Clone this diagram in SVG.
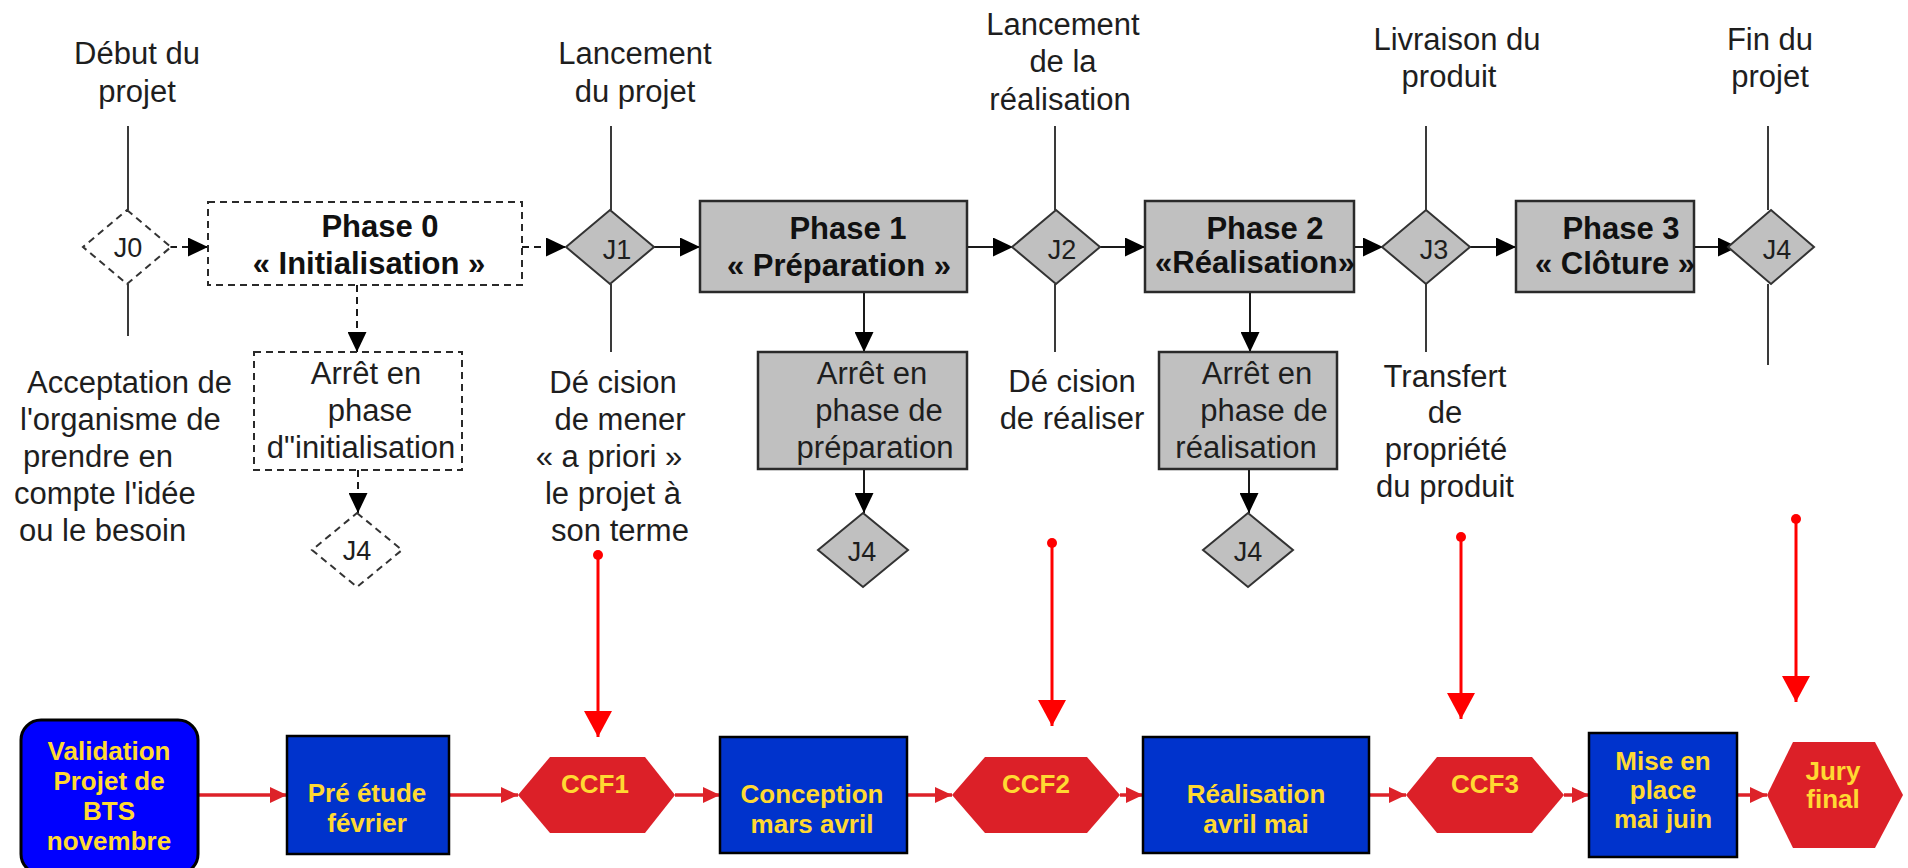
<svg xmlns="http://www.w3.org/2000/svg" width="1908" height="868" viewBox="0 0 1908 868">
  <style>
    .lbl { font-family: "Liberation Sans", Arial, sans-serif; font-size: 31px; fill: #1e1e1e; }
    .c { text-anchor: middle; }
    .ttl { font-family: "Liberation Sans", Arial, sans-serif; font-size: 31px; font-weight: bold; fill: #111; text-anchor: middle; }
    .jl { font-family: "Liberation Sans", Arial, sans-serif; font-size: 27px; fill: #1e1e1e; text-anchor: middle; }
    .yl { font-family: "Liberation Sans", Arial, sans-serif; font-size: 26px; font-weight: bold; fill: #ffd932; text-anchor: middle; }
    .gbox { fill: #c0c0c0; stroke: #2a2a2a; stroke-width: 2.5; }
    .dbox { fill: #ffffff; stroke: #2a2a2a; stroke-width: 2; stroke-dasharray: 7 5; }
    .gdia { fill: #c0c0c0; stroke: #333; stroke-width: 2; }
    .ddia { fill: #ffffff; stroke: #333; stroke-width: 2; stroke-dasharray: 7 5; }
    .tick { stroke: #3a3a3a; stroke-width: 2; fill: none; }
    .flow { stroke: #1a1a1a; stroke-width: 2; fill: none; marker-end: url(#ah); }
    .dflow { stroke: #1a1a1a; stroke-width: 2; fill: none; stroke-dasharray: 7 5; marker-end: url(#ah); }
    .rflow { stroke: #dd2229; stroke-width: 3.5; fill: none; marker-end: url(#rah); }
    .rlink { stroke: #ff0000; stroke-width: 3; fill: none; marker-start: url(#rdot); marker-end: url(#rbig); }
    .blue { fill: #0033cc; stroke: #000; stroke-width: 2.5; }
    .hex { fill: #dc2028; }
  </style>
  <defs>
    <marker id="ah" markerUnits="userSpaceOnUse" markerWidth="20" markerHeight="19" refX="20" refY="9.5" orient="auto">
      <path d="M0,0 L20,9.5 L0,19 Z" fill="#000"/>
    </marker>
    <marker id="rah" markerUnits="userSpaceOnUse" markerWidth="17" markerHeight="16" refX="17" refY="8" orient="auto">
      <path d="M0,0 L17,8 L0,16 Z" fill="#dd2229"/>
    </marker>
    <marker id="rbig" markerUnits="userSpaceOnUse" markerWidth="26" markerHeight="28" refX="26" refY="14" orient="auto">
      <path d="M0,0 L26,14 L0,28 Z" fill="#ff0000"/>
    </marker>
    <marker id="rdot" markerUnits="userSpaceOnUse" markerWidth="12" markerHeight="12" refX="6" refY="6" orient="auto">
      <circle cx="6" cy="6" r="5" fill="#ff0000"/>
    </marker>
  </defs>

  <rect width="1908" height="868" fill="#ffffff"/>

  <!-- milestone ticks with their captions -->
  <g id="milestone-captions">
    <text class="lbl c"><tspan x="137" y="64">Début du</tspan><tspan x="137" y="102">projet</tspan></text>
    <text class="lbl c"><tspan x="635" y="64">Lancement</tspan><tspan x="635" y="102">du projet</tspan></text>
    <text class="lbl c"><tspan x="1063" y="35">Lancement</tspan><tspan x="1063" y="72">de la</tspan><tspan x="1060" y="110">réalisation</tspan></text>
    <text class="lbl c"><tspan x="1457" y="50">Livraison du</tspan><tspan x="1449" y="87">produit</tspan></text>
    <text class="lbl c"><tspan x="1770" y="50">Fin du</tspan><tspan x="1770" y="87">projet</tspan></text>

    <text class="lbl"><tspan x="27" y="393">Acceptation de</tspan><tspan x="20" y="430">l'organisme de</tspan><tspan x="23" y="467">prendre en</tspan><tspan x="14" y="504">compte l'idée</tspan><tspan x="19" y="541">ou le besoin</tspan></text>
    <text class="lbl c"><tspan x="613" y="393">Dé cision</tspan><tspan x="620" y="430">de mener</tspan><tspan x="609" y="467">«  a priori »</tspan><tspan x="613" y="504">le projet à</tspan><tspan x="620" y="541">son terme</tspan></text>
    <text class="lbl c"><tspan x="1072" y="392">Dé cision</tspan><tspan x="1072" y="429">de réaliser</tspan></text>
    <text class="lbl c"><tspan x="1445" y="387">Transfert</tspan><tspan x="1445" y="423">de</tspan><tspan x="1446" y="460">propriété</tspan><tspan x="1445" y="497">du produit</tspan></text>
  </g>

  <!-- connectors -->
  <g id="connectors">
    <!-- milestone ticks -->
    <path class="tick" d="M128,126 V210 M128,284 V336"/>
    <path class="tick" d="M611,126 V210 M611,284 V352"/>
    <path class="tick" d="M1055,126 V210 M1055,284 V352"/>
    <path class="tick" d="M1426,126 V210 M1426,284 V352"/>
    <path class="tick" d="M1768,126 V210 M1768,284 V365"/>

    <!-- main chain -->
    <path class="dflow" d="M170,247 H208"/>
    <path class="dflow" d="M522,247 H566"/>
    <path class="flow" d="M654,247 H700"/>
    <path class="flow" d="M967,247 H1013"/>
    <path class="flow" d="M1100,247 H1145"/>
    <path class="flow" d="M1354,247 H1383"/>
    <path class="flow" d="M1470,247 H1516"/>
    <path class="flow" d="M1694,247 H1738"/>

    <!-- stop branches -->
    <path class="dflow" d="M357,285 V352"/>
    <path class="dflow" d="M358,470 V513"/>
    <path class="flow" d="M864,292 V352"/>
    <path class="flow" d="M864,469 V513"/>
    <path class="flow" d="M1250,292 V352"/>
    <path class="flow" d="M1249,469 V513"/>

    <!-- milestone to exam links -->
    <path class="rlink" d="M598,555 V737"/>
    <path class="rlink" d="M1052,543 V726"/>
    <path class="rlink" d="M1461,537 V719"/>
    <path class="rlink" d="M1796,519 V702"/>

    <!-- calendar chain -->
    <path class="rflow" d="M198,795 H287"/>
    <path class="rflow" d="M449,795 H518"/>
    <path class="rflow" d="M675,795 H720"/>
    <path class="rflow" d="M907,795 H952"/>
    <path class="rflow" d="M1120,795 H1143"/>
    <path class="rflow" d="M1369,795 H1406"/>
    <path class="rflow" d="M1564,795 H1589"/>
    <path class="rflow" d="M1737,795 H1767"/>
  </g>

  <!-- milestones -->
  <g id="J0">
    <polygon class="ddia" points="127,210 171,247 127,284 83,247"/>
    <text class="jl" x="128" y="257">J0</text>
  </g>
  <g id="J1">
    <polygon class="gdia" points="610,210 654,247 610,284 566,247"/>
    <text class="jl" x="617" y="259">J1</text>
  </g>
  <g id="J2">
    <polygon class="gdia" points="1056,210 1100,247 1056,284 1012,247"/>
    <text class="jl" x="1062" y="259">J2</text>
  </g>
  <g id="J3">
    <polygon class="gdia" points="1426,210 1470,247 1426,284 1382,247"/>
    <text class="jl" x="1434" y="259">J3</text>
  </g>
  <g id="J4">
    <polygon class="gdia" points="1771,210 1814,247 1771,284 1728,247"/>
    <text class="jl" x="1777" y="259">J4</text>
  </g>

  <!-- phases -->
  <g id="phase0">
    <rect class="dbox" x="208" y="202" width="314" height="83"/>
    <text class="ttl"><tspan x="380" y="237">Phase 0</tspan><tspan x="369" y="274">« Initialisation »</tspan></text>
  </g>
  <g id="phase1">
    <rect class="gbox" x="700" y="201" width="267" height="91"/>
    <text class="ttl"><tspan x="848" y="239">Phase 1</tspan><tspan x="839" y="276">«  Préparation »</tspan></text>
  </g>
  <g id="phase2">
    <rect class="gbox" x="1145" y="201" width="209" height="91"/>
    <text class="ttl"><tspan x="1265" y="239">Phase 2</tspan><tspan x="1255" y="273">«Réalisation»</tspan></text>
  </g>
  <g id="phase3">
    <rect class="gbox" x="1516" y="201" width="178" height="91"/>
    <text class="ttl"><tspan x="1621" y="239">Phase 3</tspan><tspan x="1615" y="274">« Clôture »</tspan></text>
  </g>

  <!-- stop boxes -->
  <g id="stop0">
    <rect class="dbox" x="254" y="352" width="208" height="118"/>
    <text class="lbl c"><tspan x="366" y="384">Arrêt en</tspan><tspan x="370" y="421">phase</tspan><tspan x="361" y="458">d"initialisation</tspan></text>
  </g>
  <g id="stop0-J4">
    <polygon class="ddia" points="357,513 402,550 357,587 312,550"/>
    <text class="jl" x="357" y="560">J4</text>
  </g>
  <g id="stop1">
    <rect class="gbox" x="758" y="352" width="209" height="117"/>
    <text class="lbl c"><tspan x="872" y="384">Arrêt en</tspan><tspan x="879" y="421">phase de</tspan><tspan x="875" y="458">préparation</tspan></text>
  </g>
  <g id="stop1-J4">
    <polygon class="gdia" points="863,513 908,550 863,587 818,550"/>
    <text class="jl" x="862" y="561">J4</text>
  </g>
  <g id="stop2">
    <rect class="gbox" x="1159" y="352" width="178" height="117"/>
    <text class="lbl c"><tspan x="1257" y="384">Arrêt en</tspan><tspan x="1264" y="421">phase de</tspan><tspan x="1246" y="458">réalisation</tspan></text>
  </g>
  <g id="stop2-J4">
    <polygon class="gdia" points="1248,513 1293,550 1248,587 1203,550"/>
    <text class="jl" x="1248" y="561">J4</text>
  </g>

  <!-- calendar -->
  <g id="validation">
    <rect x="21" y="720" width="177" height="154" rx="20" ry="20" fill="#0000ff" stroke="#000" stroke-width="3"/>
    <text class="yl"><tspan x="109" y="760">Validation</tspan><tspan x="109" y="790">Projet de</tspan><tspan x="109" y="820">BTS</tspan><tspan x="109" y="850">novembre</tspan></text>
  </g>
  <g id="pre-etude">
    <rect class="blue" x="287" y="736" width="162" height="118"/>
    <text class="yl"><tspan x="367" y="802">Pré étude</tspan><tspan x="367" y="832">février</tspan></text>
  </g>
  <g id="ccf1">
    <polygon class="hex" points="518,795 550,757 645,757 675,795 645,833 550,833"/>
    <text class="yl" x="595" y="793">CCF1</text>
  </g>
  <g id="conception">
    <rect class="blue" x="720" y="737" width="187" height="116"/>
    <text class="yl"><tspan x="812" y="803">Conception</tspan><tspan x="812" y="833">mars avril</tspan></text>
  </g>
  <g id="ccf2">
    <polygon class="hex" points="952,795 985,757 1087,757 1120,795 1087,833 985,833"/>
    <text class="yl" x="1036" y="793">CCF2</text>
  </g>
  <g id="realisation">
    <rect class="blue" x="1143" y="737" width="226" height="116"/>
    <text class="yl"><tspan x="1256" y="803">Réalisation</tspan><tspan x="1256" y="833">avril mai</tspan></text>
  </g>
  <g id="ccf3">
    <polygon class="hex" points="1406,795 1437,757 1532,757 1564,795 1532,833 1437,833"/>
    <text class="yl" x="1485" y="793">CCF3</text>
  </g>
  <g id="mise-en-place">
    <rect class="blue" x="1589" y="733" width="148" height="124"/>
    <text class="yl"><tspan x="1663" y="770">Mise en</tspan><tspan x="1663" y="799">place</tspan><tspan x="1663" y="828">mai juin</tspan></text>
  </g>
  <g id="jury">
    <polygon class="hex" points="1767,795 1793,742 1875,742 1903,795 1875,848 1793,848"/>
    <text class="yl"><tspan x="1833" y="780">Jury</tspan><tspan x="1833" y="808">final</tspan></text>
  </g>
</svg>
